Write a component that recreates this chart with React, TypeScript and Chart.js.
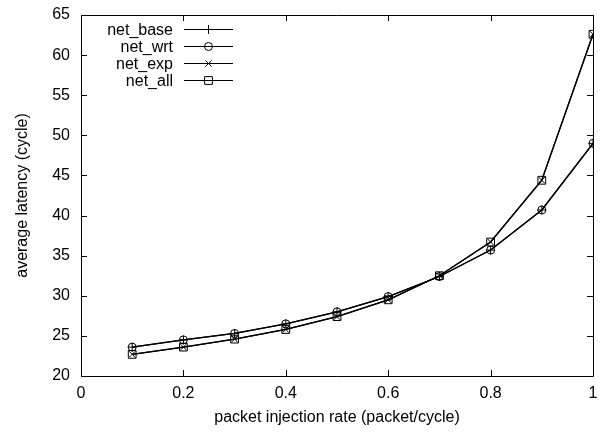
import React, { useEffect, useRef } from "react";
import { Chart, registerables } from "chart.js";
import { drawPoint } from "chart.js/helpers";

Chart.register(...registerables);

// injection rates (packet/cycle)
const rates = [0.1, 0.2, 0.3, 0.4, 0.5, 0.6, 0.7, 0.8, 0.9, 1.0];
// average latency (cycle) per configuration
const netBase = [23.6, 24.5, 25.3, 26.5, 28.0, 29.9, 32.4, 35.7, 40.7, 49.0];
const netWrt = [23.6, 24.5, 25.3, 26.5, 28.0, 29.9, 32.4, 35.7, 40.7, 49.0];
const netExp = [22.7, 23.6, 24.6, 25.8, 27.4, 29.5, 32.5, 36.7, 44.4, 62.6];
const netAll = [22.7, 23.6, 24.6, 25.8, 27.4, 29.5, 32.5, 36.7, 44.4, 62.6];

const seriesNames = ["net_base", "net_wrt", "net_exp", "net_all"];
const seriesValues = [netBase, netWrt, netExp, netAll];
const markers = ["cross", "circle", "crossRot", "rect"];
const markerSizes = [4.5, 4, 4.5, 5.5];

const FONT = "Liberation Sans, Arial, Helvetica, sans-serif";
const FONT_SIZE = 16;

// Frame around the plot area with inward ticks mirrored on all sides,
// plus a gnuplot-style key in the upper left corner.
const framePlugin = {
  id: "frameAndKey",
  afterDraw(chart: any) {
    const { ctx, chartArea } = chart;
    const { left, right, top, bottom } = chartArea;
    const xs = chart.scales.x;
    const ys = chart.scales.y;
    const tick = 6;
    ctx.save();
    ctx.strokeStyle = "#000";
    ctx.lineWidth = 1;
    ctx.beginPath();
    ctx.rect(Math.round(left) + 0.5, Math.round(top) + 0.5, Math.round(right - left), Math.round(bottom - top));
    ys.ticks.forEach((t: any) => {
      const y = Math.round(ys.getPixelForValue(t.value)) + 0.5;
      ctx.moveTo(left, y);
      ctx.lineTo(left + tick, y);
      ctx.moveTo(right, y);
      ctx.lineTo(right - tick, y);
    });
    xs.ticks.forEach((t: any) => {
      const x = Math.round(xs.getPixelForValue(t.value)) + 0.5;
      ctx.moveTo(x, bottom);
      ctx.lineTo(x, bottom - tick);
      ctx.moveTo(x, top);
      ctx.lineTo(x, top + tick);
    });
    ctx.stroke();

    // key
    const textRight = 173;
    const lineStart = 184;
    const lineEnd = 233;
    const rowTop = 29.5;
    const rowStep = 17;
    ctx.font = FONT_SIZE + "px " + FONT;
    ctx.textAlign = "right";
    ctx.textBaseline = "middle";
    chart.data.datasets.forEach((ds: any, i: number) => {
      const y = rowTop + i * rowStep;
      ctx.fillStyle = "#000";
      ctx.fillText(ds.label, textRight, y + 1);
      ctx.lineWidth = 1.2;
      ctx.beginPath();
      ctx.moveTo(lineStart, y);
      ctx.lineTo(lineEnd, y);
      ctx.stroke();
      ctx.lineWidth = 1;
      ctx.fillStyle = "rgba(0,0,0,0)";
      drawPoint(ctx, { pointStyle: ds.pointStyle, radius: ds.pointRadius, rotation: 0, borderWidth: 1 } as any, (lineStart + lineEnd) / 2, y);
    });
    ctx.restore();
  },
};

export default function App() {
  const ref = useRef<HTMLCanvasElement | null>(null);

  useEffect(() => {
    if (!ref.current) return;
    Chart.defaults.font.family = FONT;
    Chart.defaults.color = "#000";
    const datasets = seriesNames.map((name, i) => ({
      label: name,
      data: rates.map((r, j) => ({ x: r, y: seriesValues[i][j] })),
      borderColor: "#000",
      backgroundColor: "rgba(0,0,0,0)",
      borderWidth: 1.3,
      pointStyle: markers[i],
      pointRadius: markerSizes[i],
      pointBorderWidth: 1,
      pointBorderColor: "#000",
      pointBackgroundColor: "rgba(0,0,0,0)",
      tension: 0,
    }));
    const chart = new Chart(ref.current, {
      type: "line",
      data: { datasets },
      options: {
        animation: false,
        responsive: false,
        devicePixelRatio: 1,
        layout: { padding: { top: 15, right: 7, left: 0, bottom: 0 } },
        plugins: { legend: { display: false }, tooltip: { enabled: false } },
        scales: {
          x: {
            type: "linear",
            min: 0,
            max: 1,
            ticks: { stepSize: 0.2, padding: 8, font: { size: FONT_SIZE }, maxRotation: 0, callback: (v: any) => String(Math.round(Number(v) * 10) / 10) },
            grid: { display: false, drawTicks: false },
            border: { display: false },
            title: { display: true, text: "packet injection rate (packet/cycle)", font: { size: FONT_SIZE }, padding: { top: 4, bottom: 5 } },
            afterFit: (s: any) => {
              s.height = 56;
              s.paddingLeft = 0;
              s.paddingRight = 0;
            },
          },
          y: {
            type: "linear",
            min: 20,
            max: 65,
            ticks: { stepSize: 5, padding: 11, font: { size: FONT_SIZE } },
            grid: { display: false, drawTicks: false },
            border: { display: false },
            title: { display: true, text: "average latency (cycle)", font: { size: FONT_SIZE }, padding: { top: 13, bottom: 0 } },
            afterFit: (s: any) => {
              s.width = 81;
              s.paddingTop = 0;
              s.paddingBottom = 0;
            },
          },
        },
      },
      plugins: [framePlugin],
    });
    return () => chart.destroy();
  }, []);

  return (
    <div style={{ position: "fixed", left: 0, top: 0, width: 600, height: 432, background: "#fff" }}>
      <canvas ref={ref} width={600} height={432} style={{ display: "block", width: 600, height: 432 }} />
    </div>
  );
}
